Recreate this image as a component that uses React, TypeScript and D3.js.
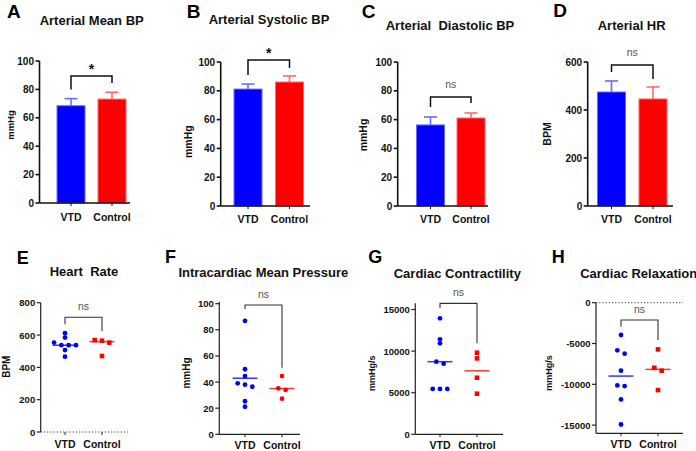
import React from "react";
import * as d3 from "d3";

// ---------- DATA ----------
const groups = ["VTD", "Control"];

// Bar panels (mean, upper error)
const meanBP = [68.5, 73.2];
const meanBPErr = [5.0, 4.8];
const systolicBP = [81.2, 86.1];
const systolicBPErr = [3.5, 4.2];
const diastolicBP = [56.3, 61.1];
const diastolicBPErr = [5.5, 3.5];
const arterialHR = [475, 446];
const arterialHRErr = [46, 50];

// Scatter panels
const heartRateVTD = [611, 584, 553, 537, 537, 537, 507, 466];
const heartRateControl = [569, 565, 553, 470];
const heartRateLines = [537, 559];
const intraPressVTD = [86.8, 49.8, 44.6, 39, 38, 36.4, 25.3, 21.1];
const intraPressControl = [44.6, 35.2, 34, 27.3];
const intraPressLines = [42.9, 35];
const contractVTD = [13940, 11420, 10940, 8730, 8490, 5450, 5450, 5450];
const contractControl = [9810, 9130, 6800, 4880];
const contractLines = [8730, 7630];
const relaxVTD = [-3960, -5840, -6250, -8330, -10220, -10140, -11850, -14920];
const relaxControl = [-5720, -7970, -8330, -10710];
const relaxLines = [-8990, -8170];

// Tick values
const pctTicks = [0, 20, 40, 60, 80, 100];
const hrTicks = [0, 200, 400, 600];
const hrScatterTicks = [0, 200, 400, 600, 800];
const contractTicks = [0, 5000, 10000, 15000];
const relaxTicks = [0, -5000, -10000, -15000];

// Brackets: [top, leftEnd, rightEnd] in data units, with significance labels
const bracketA = [89.4, 80, 84.5];
const bracketB = [101.4, 91, 95.8];
const bracketC = [75.7, 68.7, 71.5];
const bracketD = [587, 558, 529];
const bracketE = [710, 667, 625];
const bracketF = [99, 96, 51];
const bracketG = [15740, 15140, 10940];
const bracketH = [-2120, -2940, -4570];
const sigTop = ["*", "*", "ns", "ns"];
const sigBottom = ["ns", "ns", "ns", "ns"];

// ---------- STYLE ----------
const BLUE = "#0000ff";
const RED = "#ff0000";
const BLUE_L = "#6a6aff";
const RED_L = "#ff6a6a";
const FONT = "'Liberation Sans', Arial, Helvetica, sans-serif";

type BarCfg = {
  letter: string; letterPos: [number, number];
  title: string; titlePos: [number, number];
  ylabel: string; ylabelPos: [number, number]; ylabelSize: number;
  values: number[]; errs: number[]; domain: [number, number]; ticks: number[];
  axisX: number; xEnd: number; centers: [number, number]; yRange: [number, number];
  xlabelY: number; bracket: number[]; sig: string;
};

const barPanels: BarCfg[] = [
  { letter: "A", letterPos: [7, 17.5], title: "Arterial Mean BP", titlePos: [91.7, 25], ylabel: "mmHg", ylabelPos: [10, 125], ylabelSize: 9.5,
    values: meanBP, errs: meanBPErr, domain: [0, 100], ticks: pctTicks, axisX: 39.5, xEnd: 130, centers: [71, 112], yRange: [203, 61], xlabelY: 220.7, bracket: bracketA, sig: sigTop[0] },
  { letter: "B", letterPos: [186.7, 17.5], title: "Arterial Systolic BP", titlePos: [269, 24], ylabel: "mmHg", ylabelPos: [188, 141.7], ylabelSize: 10.5,
    values: systolicBP, errs: systolicBPErr, domain: [0, 100], ticks: pctTicks, axisX: 220.7, xEnd: 310, centers: [248, 289.5], yRange: [206, 62], xlabelY: 223, bracket: bracketB, sig: sigTop[1] },
  { letter: "C", letterPos: [361.7, 17.5], title: "Arterial  Diastolic BP", titlePos: [450, 30], ylabel: "mmHg", ylabelPos: [363, 135], ylabelSize: 10.5,
    values: diastolicBP, errs: diastolicBPErr, domain: [0, 100], ticks: pctTicks, axisX: 397.7, xEnd: 488, centers: [430.5, 471], yRange: [206, 62], xlabelY: 222.7, bracket: bracketC, sig: sigTop[2] },
  { letter: "D", letterPos: [553.3, 16.5], title: "Arterial HR", titlePos: [631.7, 30], ylabel: "BPM", ylabelPos: [546.7, 134], ylabelSize: 10.5,
    values: arterialHR, errs: arterialHRErr, domain: [0, 600], ticks: hrTicks, axisX: 587.7, xEnd: 673, centers: [611.5, 653], yRange: [206, 62], xlabelY: 222.7, bracket: bracketD, sig: sigTop[3] },
];

type ScatCfg = {
  letter: string; letterPos: [number, number];
  title: string; titlePos: [number, number];
  ylabel: string; ylabelPos: [number, number]; ylabelSize: number;
  series: number[][]; lines: number[]; squares: boolean;
  domain: [number, number]; ticks: number[];
  axisX: number; xEnd: number; centers: [number, number]; yRange: [number, number];
  xlabelY: number; bracket: number[]; sig: string; dottedAxis: boolean; zeroLine: boolean;
};

const scatterPanels: ScatCfg[] = [
  { letter: "E", letterPos: [16.7, 264.3], title: "Heart  Rate", titlePos: [84, 275.7], ylabel: "BPM", ylabelPos: [6.5, 366.7], ylabelSize: 10,
    series: [heartRateVTD, heartRateControl], lines: heartRateLines, squares: true, domain: [0, 800], ticks: hrScatterTicks,
    axisX: 40.7, xEnd: 128, centers: [65, 102], yRange: [432, 302.7], xlabelY: 447.7, bracket: bracketE, sig: sigBottom[0], dottedAxis: true, zeroLine: false },
  { letter: "F", letterPos: [165, 263.3], title: "Intracardiac Mean Pressure", titlePos: [263.3, 277], ylabel: "mmHg", ylabelPos: [186, 373], ylabelSize: 10,
    series: [intraPressVTD, intraPressControl], lines: intraPressLines, squares: false, domain: [0, 101.5], ticks: pctTicks,
    axisX: 219.3, xEnd: 300, centers: [245, 282], yRange: [434.3, 301.7], xlabelY: 449, bracket: bracketF, sig: sigBottom[1], dottedAxis: false, zeroLine: false },
  { letter: "G", letterPos: [368.3, 263.3], title: "Cardiac Contractility", titlePos: [457.3, 278], ylabel: "mmHg/s", ylabelPos: [372.3, 373.3], ylabelSize: 9,
    series: [contractVTD, contractControl], lines: contractLines, squares: true, domain: [0, 15750], ticks: contractTicks,
    axisX: 415.3, xEnd: 503, centers: [440, 477], yRange: [434.3, 303.3], xlabelY: 449, bracket: bracketG, sig: sigBottom[2], dottedAxis: false, zeroLine: false },
  { letter: "H", letterPos: [551.7, 263.3], title: "Cardiac Relaxation", titlePos: [638.7, 277.7], ylabel: "mmHg/s", ylabelPos: [549, 373], ylabelSize: 9,
    series: [relaxVTD, relaxControl], lines: relaxLines, squares: true, domain: [-16000, 0], ticks: relaxTicks,
    axisX: 596, xEnd: 683, centers: [621, 658], yRange: [433.3, 302.7], xlabelY: 448.3, bracket: bracketH, sig: sigBottom[3], dottedAxis: false, zeroLine: true },
];

// simple column-scatter spreading: points whose pixel positions nearly coincide are spread sideways
function spread(values: number[], y: (v: number) => number, threshold = 3.5, spacing = 7.3): number[] {
  const idx = values.map((_, i) => i).sort((a, b) => y(values[a]) - y(values[b]));
  const off = new Array(values.length).fill(0);
  let cluster: number[] = [idx[0]];
  const flush = () => {
    const n = cluster.length;
    cluster.forEach((k, j) => (off[k] = (j - (n - 1) / 2) * spacing));
  };
  for (let i = 1; i < idx.length; i++) {
    const prev = cluster[cluster.length - 1];
    if (Math.abs(y(values[idx[i]]) - y(values[prev])) < threshold) cluster.push(idx[i]);
    else { flush(); cluster = [idx[i]]; }
  }
  flush();
  return off;
}

function Common({ c, y, x, axisColor, axisW, tickSize, bracketColor, bracketW, sigSize, sigOffset, xlabelSize }: any) {
  const [y0, y1] = y.range();
  const isStar = c.sig === "*";
  const [bt, bl, br] = c.bracket;
  return (
    <g>
      <text x={c.letterPos[0]} y={c.letterPos[1]} fontFamily={FONT} fontWeight="bold" fontSize={c.letterSize} fill="#000">{c.letter}</text>
      <text x={c.titlePos[0]} y={c.titlePos[1]} textAnchor="middle" fontFamily={FONT} fontWeight="bold" fontSize={13} fill="#111" style={{ whiteSpace: "pre" }}>{c.title}</text>
      <text transform={`translate(${c.ylabelPos[0]},${c.ylabelPos[1]}) rotate(-90)`} textAnchor="middle" dominantBaseline="central" fontFamily={FONT} fontWeight="bold" fontSize={c.ylabelSize} fill="#111">{c.ylabel}</text>
      {/* y axis */}
      <line x1={c.axisX} x2={c.axisX} y1={y0} y2={y1} stroke={axisColor} strokeWidth={axisW} />
      {c.ticks.map((t: number) => (
        <g key={t}>
          <line x1={c.axisX - 4} x2={c.axisX} y1={y(t)} y2={y(t)} stroke={axisColor} strokeWidth={axisW} />
          <text x={c.axisX - 5.5} y={y(t)} textAnchor="end" dominantBaseline="central" fontFamily={FONT} fontWeight="bold" fontSize={tickSize} fill="#111">{String(t)}</text>
        </g>
      ))}
      {/* x labels */}
      {groups.map((g, i) => (
        <g key={g}>
          <line x1={x(g)} x2={x(g)} y1={y(c.domain[0])} y2={y(c.domain[0]) + 3} stroke={axisColor} strokeWidth={1} />
          <text x={x(g)} y={c.xlabelY} textAnchor="middle" fontFamily={FONT} fontWeight="bold" fontSize={xlabelSize} fill="#111">{g}</text>
        </g>
      ))}
      {/* bracket */}
      <path d={`M${x(groups[0])},${y(bl)}V${y(bt)}H${x(groups[1])}V${y(br)}`} fill="none" stroke={bracketColor} strokeWidth={bracketW} />
      <text x={(x(groups[0]) + x(groups[1])) / 2} y={y(bt) - (isStar ? 2.3 : sigOffset)} textAnchor="middle" fontFamily={FONT}
        fontWeight={isStar ? "bold" : "normal"} fontSize={isStar ? 14 : sigSize} fill={isStar ? "#111" : "#555"}>{c.sig}</text>
    </g>
  );
}

function BarPanel({ c }: { c: BarCfg }) {
  const y = d3.scaleLinear().domain(c.domain).range(c.yRange);
  const x = d3.scaleOrdinal<string, number>().domain(groups).range(c.centers);
  const bw = 28;
  const colors = [BLUE, RED];
  const light = [BLUE_L, RED_L];
  return (
    <g>
      {c.values.map((v, i) => {
        const cx = x(groups[i]);
        const top = y(v + c.errs[i]);
        return (
          <g key={i}>
            <line x1={cx} x2={cx} y1={y(v)} y2={top} stroke={light[i]} strokeWidth={1.6} />
            <line x1={cx - 6.5} x2={cx + 6.5} y1={top} y2={top} stroke={light[i]} strokeWidth={1.6} />
            <rect x={cx - bw / 2} y={y(v)} width={bw} height={y(0) - y(v)} fill={colors[i]} stroke={light[i]} strokeWidth={1} />
          </g>
        );
      })}
      <line x1={c.axisX} x2={c.xEnd} y1={y(0)} y2={y(0)} stroke="#111" strokeWidth={1.6} />
      <Common c={{ ...c, letterSize: 19 }} y={y} x={x} axisColor="#111" axisW={1.6} tickSize={10} bracketColor="#111" bracketW={1.5} sigSize={10.5} sigOffset={9.3} xlabelSize={10.5} />
    </g>
  );
}

function ScatterPanel({ c }: { c: ScatCfg }) {
  const y = d3.scaleLinear().domain(c.domain).range(c.yRange);
  const x = d3.scaleOrdinal<string, number>().domain(groups).range(c.centers);
  const colors = [BLUE, RED];
  const lineCol = ["#3535ff", "#ff3535"];
  const [yb] = c.yRange;
  return (
    <g>
      {c.dottedAxis ? (
        <line x1={c.axisX} x2={c.xEnd} y1={yb} y2={yb} stroke="#333" strokeWidth={1} strokeDasharray="1.2,2" />
      ) : (
        <line x1={c.axisX} x2={c.xEnd} y1={yb} y2={yb} stroke="#222" strokeWidth={1.2} />
      )}
      {c.zeroLine && <line x1={c.axisX} x2={c.xEnd} y1={y(0)} y2={y(0)} stroke="#333" strokeWidth={1} strokeDasharray="1.2,2" />}
      {c.series.map((vals, i) => {
        const cx = x(groups[i]);
        const off = spread(vals, (v) => y(v));
        return (
          <g key={i}>
            <line x1={cx - 12.5} x2={cx + 12.5} y1={y(c.lines[i])} y2={y(c.lines[i])} stroke={lineCol[i]} strokeWidth={1.5} />
            {vals.map((v, k) =>
              i === 1 && c.squares ? (
                <rect key={k} x={cx + off[k] - 2.3} y={y(v) - 2.3} width={4.6} height={4.6} fill={colors[i]} />
              ) : (
                <circle key={k} cx={cx + off[k]} cy={y(v)} r={2.4} fill={colors[i]} />
              )
            )}
          </g>
        );
      })}
      <Common c={{ ...c, letterSize: 18 }} y={y} x={x} axisColor="#222" axisW={1.2} tickSize={9.5} bracketColor="#333" bracketW={1.1} sigSize={10.5} sigOffset={7.3} xlabelSize={10.5} />
    </g>
  );
}

export default function App() {
  return (
    <svg width={696} height={451} viewBox="0 0 696 451" style={{ position: "absolute", left: 0, top: 0, background: "#fff" }}>
      <rect width={696} height={451} fill="#fff" />
      {barPanels.map((c) => <BarPanel key={c.letter} c={c} />)}
      {scatterPanels.map((c) => <ScatterPanel key={c.letter} c={c} />)}
    </svg>
  );
}
